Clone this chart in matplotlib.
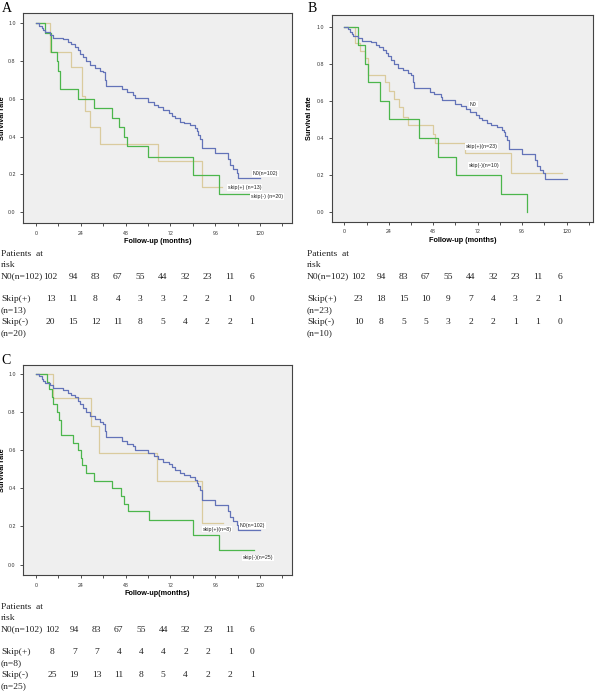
import matplotlib
matplotlib.use('Agg')
from matplotlib import pyplot as plt

W, H = 600, 694

# N0 group, same curve in all three panels
n0_time = [0, 1.8, 3, 3.9, 4.8, 7.5, 9.3, 14.6, 17.3, 19, 21, 22.7, 23.6, 25.4, 27, 29, 31.6, 34.3,
           36, 37, 37.5, 46, 48.6, 52, 53, 60, 63, 65.5, 68, 71, 72.7, 74.5, 77, 79, 82.5, 85, 86,
           87, 88, 88.8, 96, 103, 104, 105.7, 107.5, 108.4, 120]
n0_surv = [1.0, 0.988, 0.974, 0.962, 0.952, 0.94, 0.924, 0.915, 0.90, 0.89, 0.877, 0.86, 0.84, 0.82,
           0.80, 0.78, 0.765, 0.75, 0.74, 0.70, 0.67, 0.65, 0.635, 0.62, 0.603, 0.585, 0.57, 0.555,
           0.54, 0.525, 0.51, 0.497, 0.48, 0.47, 0.46, 0.445, 0.43, 0.41, 0.39, 0.34, 0.312, 0.28,
           0.25, 0.23, 0.21, 0.18, 0.18]

# panel A
a_pos_time = [0, 7.5, 18.75, 24.5, 26, 29, 34.3, 65.2, 89.1, 99.8]
a_pos_surv = [1.0, 0.846, 0.769, 0.615, 0.538, 0.449, 0.359, 0.269, 0.135, 0.135]
a_neg_time = [0, 4.8, 7.9, 11.4, 11.8, 12.9, 22.3, 31.25, 40.5, 44.6, 47, 49, 59.8, 84, 98, 114.6]
a_neg_surv = [1.0, 0.95, 0.85, 0.80, 0.75, 0.65, 0.60, 0.55, 0.50, 0.45, 0.40, 0.35, 0.29, 0.195,
              0.097, 0.097]

# panel B
b_pos_time = [0, 5.8, 8.5, 11.2, 13, 22, 24.3, 27, 29.5, 31.8, 34.5, 47.7, 49, 65.1, 89.8, 117.3]
b_pos_surv = [1.0, 0.91, 0.87, 0.83, 0.74, 0.70, 0.655, 0.61, 0.565, 0.515, 0.47, 0.42, 0.375,
              0.32, 0.21, 0.21]
b_neg_time = [0, 7.2, 11.2, 13, 19.3, 24.3, 40.3, 50.4, 60.3, 84.4, 98.4]
b_neg_surv = [1.0, 0.9, 0.8, 0.7, 0.6, 0.5, 0.4, 0.3, 0.2, 0.1, 0.0]

# panel C
c_pos_time = [0, 9.3, 29.5, 34, 65, 89, 100]
c_pos_surv = [1.0, 0.875, 0.729, 0.583, 0.4375, 0.219, 0.219]
c_neg_time = [0, 5.7, 7, 8.4, 9, 11.4, 12.5, 13.4, 19.6, 22.3, 24, 24.5, 26.8, 31.25, 40.5, 45.4,
              47.1, 49.1, 60.5, 84, 98, 117]
c_neg_surv = [1.0, 0.96, 0.92, 0.88, 0.84, 0.80, 0.76, 0.68, 0.64, 0.60, 0.56, 0.52, 0.48, 0.44,
              0.40, 0.36, 0.32, 0.28, 0.233, 0.155, 0.078, 0.078]

# numbers at risk
risk_n0 = [102, 94, 83, 67, 55, 44, 32, 23, 11, 6]
risk_a_pos = [13, 11, 8, 4, 3, 3, 2, 2, 1, 0]
risk_a_neg = [20, 15, 12, 11, 8, 5, 4, 2, 2, 1]
risk_b_pos = [23, 18, 15, 10, 9, 7, 4, 3, 2, 1]
risk_b_neg = [10, 8, 5, 5, 3, 2, 2, 1, 1, 0]
risk_c_pos = [8, 7, 7, 4, 4, 4, 2, 2, 1, 0]
risk_c_neg = [25, 19, 13, 11, 8, 5, 4, 2, 2, 1]

C_N0 = '#6373b8'
C_POS = '#dacb9e'
C_NEG = '#4cb64c'
SANS = ['Liberation Sans', 'DejaVu Sans']
SERIF = ['Liberation Serif', 'DejaVu Serif']

fig = plt.figure(figsize=(W / 100, H / 100), dpi=100)


def fx(x):
    return x / W


def fy(y):
    return 1 - y / H


def make_axes(left, top, right, bottom, xlim, ylim, xlabel, ylab_x):
    ax = fig.add_axes([fx(left), fy(bottom), (right - left) / W, (bottom - top) / H])
    ax.set_facecolor('#efefef')
    for s in ax.spines.values():
        s.set_color('#444444')
        s.set_linewidth(0.8)
    ax.set_xlim(*xlim)
    ax.set_ylim(*ylim)
    xt = list(range(0, 133, 12))
    ax.set_xticks(xt)
    ax.set_xticklabels([str(t) if t % 24 == 0 else '' for t in xt])
    ax.set_yticks([0, 0.2, 0.4, 0.6, 0.8, 1.0])
    ax.set_yticklabels(['0.0', '0.2', '0.4', '0.6', '0.8', '1.0'])
    ax.tick_params(direction='out', length=2.5, width=0.6, pad=3, labelsize=3.8,
                   colors='#333333')
    for lab in ax.get_xticklabels() + ax.get_yticklabels():
        lab.set_family(SANS)
    ax.set_ylabel('Survival rate', fontsize=5.2, fontweight='bold', family=SANS)
    # put the y label where the reference has it (pixel x of its centre)
    ax.yaxis.set_label_coords((ylab_x - left) / (right - left), 0.5)
    ax.set_xlabel(xlabel, fontsize=5.2, fontweight='bold', family=SANS, labelpad=2)
    return ax


def curve(ax, t, s, color):
    ax.plot(t, s, drawstyle='steps-post', color=color, lw=0.9)


def label(ax, x, y, txt):
    ax.text(x, y, txt, fontsize=3.8, family=SANS, ha='left', va='center', color='#222222',
            bbox=dict(facecolor='white', edgecolor='none', pad=0.6))


def risk_table(x0, y0, col0, step, pos_name, neg_name, pos_vals, neg_vals):
    lh = 11.3
    rows = [('Patients  at', None), ('risk', None), ('N0(n=102)', risk_n0), ('', None),
            ('Skip(+)', pos_vals), (pos_name, None), ('Skip(-)', neg_vals), (neg_name, None)]
    for i, (name, vals) in enumerate(rows):
        y = y0 + i * lh
        if name:
            fig.text(fx(x0), fy(y), name, fontsize=6.8, family=SERIF, ha='left', va='center',
                     color='#222222')
        if vals:
            for j, v in enumerate(vals):
                fig.text(fx(col0 + j * step), fy(y), str(v), fontsize=6.8, family=SERIF,
                         ha='center', va='center', color='#222222')


# A
axA = make_axes(23.3, 13.3, 292, 223, (-6.8, 137.1), (-0.057, 1.053), 'Follow-up (months)', 6)
curve(axA, a_pos_time, a_pos_surv, C_POS)
curve(axA, a_neg_time, a_neg_surv, C_NEG)
curve(axA, n0_time, n0_surv, C_N0)
label(axA, 115.9, 0.206, 'N0(n=102)')
label(axA, 102.7, 0.13, 'skip(+) (n=13)')
label(axA, 115, 0.083, 'skip(-) (n=20)')

# B
axB = make_axes(331.7, 15, 593.3, 221.7, (-6.8, 134.4), (-0.051, 1.063), 'Follow-up (months)',
                313)
curve(axB, b_pos_time, b_pos_surv, C_POS)
curve(axB, b_neg_time, b_neg_surv, C_NEG)
curve(axB, n0_time, n0_surv, C_N0)
label(axB, 67.8, 0.583, 'N0')
label(axB, 65.5, 0.354, 'skip(+)(n=23)')
label(axB, 67, 0.251, 'skip(-)(n=10)')

# C
axC = make_axes(23.3, 365, 292, 575, (-6.8, 137.1), (-0.055, 1.047), 'Follow-up(months)', 6)
curve(axC, c_pos_time, c_pos_surv, C_POS)
curve(axC, c_neg_time, c_neg_surv, C_NEG)
curve(axC, n0_time, n0_surv, C_N0)
label(axC, 89.1, 0.186, 'skip(+)(n=8)')
label(axC, 109.3, 0.204, 'N0(n=102)')
label(axC, 110.7, 0.035, 'skip(-)(n=25)')

# panel letters
fig.text(fx(1.5), fy(9), 'A', fontsize=10, family=SERIF, ha='left', va='center')
fig.text(fx(308), fy(9), 'B', fontsize=10, family=SERIF, ha='left', va='center')
fig.text(fx(1.5), fy(361), 'C', fontsize=10, family=SERIF, ha='left', va='center')

risk_table(1, 254, 50.7, 22.37, '(n=13)', '(n=20)', risk_a_pos, risk_a_neg)
risk_table(307, 254, 358.7, 22.37, '(n=23)', '(n=10)', risk_b_pos, risk_b_neg)
risk_table(1, 607, 52, 22.26, '(n=8)', '(n=25)', risk_c_pos, risk_c_neg)

fig.savefig('out.png', dpi=100, facecolor='white')
